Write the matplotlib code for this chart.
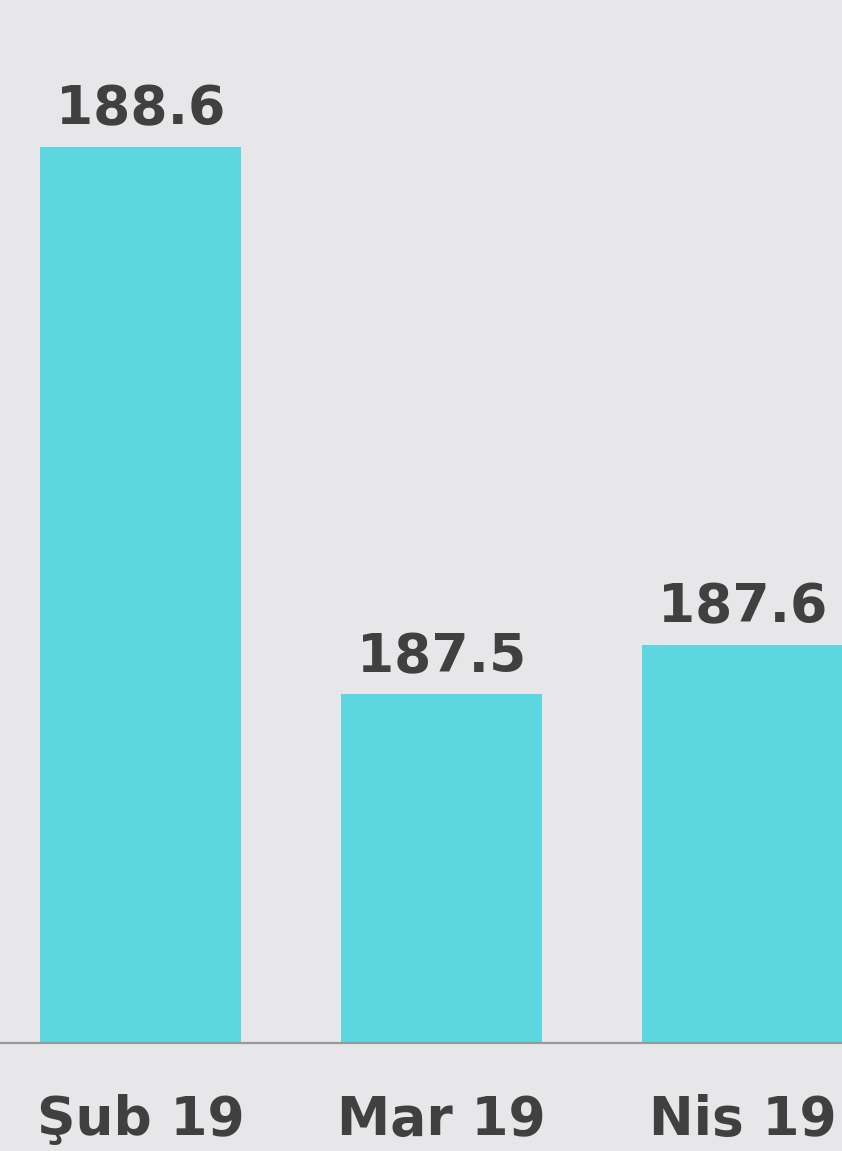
import matplotlib
matplotlib.use("Agg")
import matplotlib.pyplot as plt

categories = ["Şub 19", "Mar 19", "Nis 19"]
values = [188.6, 187.5, 187.6]
value_labels = ["188.6", "187.5", "187.6"]

W, H = 842, 1151
fig = plt.figure(figsize=(W / 100, H / 100), dpi=100)
fig.patch.set_facecolor("#e7e7ea")

base_px = 1043
ax = fig.add_axes([0, (H - base_px) / H, 1, base_px / H])
ax.set_facecolor("none")

ymin = 186.8
px_per_unit = 498.0
ymax = ymin + base_px / px_per_unit
ax.set_ylim(ymin, ymax)
ax.set_xlim(-140.5 / 301, (842 - 140.5) / 301)

x = list(range(len(categories)))
bars = ax.bar(x, [v - ymin for v in values], bottom=ymin, width=0.667,
              color="#5cd7df", zorder=2)

for xi, v, lab in zip(x, values, value_labels):
    ax.annotate(lab, (xi, v), xytext=(0, 8), textcoords="offset points",
                ha="center", va="bottom", fontsize=38.5, fontweight="bold",
                color="#404040", family="DejaVu Sans")

for s in ["top", "right", "left"]:
    ax.spines[s].set_visible(False)
ax.spines["bottom"].set_color("#999999")
ax.spines["bottom"].set_linewidth(1.6)
ax.set_yticks([])
ax.set_xticks(x)
ax.set_xticklabels(categories, fontsize=38.5, fontweight="bold", color="#404040",
                   family="DejaVu Sans")
ax.tick_params(axis="x", length=0, pad=37)

fig.savefig("out.png", dpi=100, facecolor=fig.get_facecolor())
